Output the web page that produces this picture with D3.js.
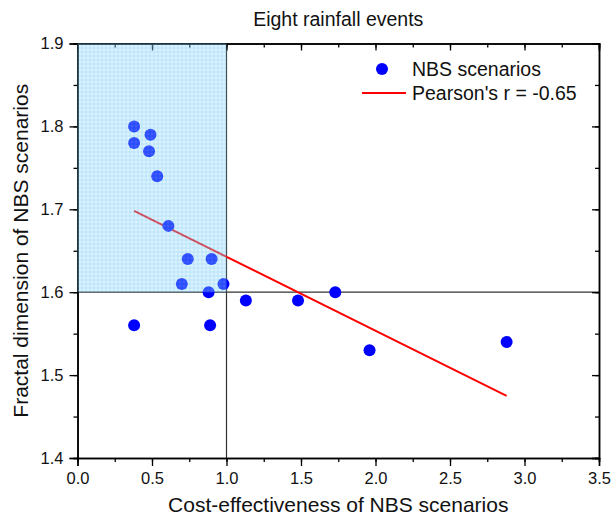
<!DOCTYPE html>
<html>
<head>
<meta charset="utf-8">
<script src="https://cdn.jsdelivr.net/npm/d3@7"></script>
<style>
body { margin:0; background:#fff; }
text { font-family: "Liberation Sans", Arial, Helvetica, sans-serif; fill:#111; }
</style>
</head>
<body>
<svg id="basicSVG" width="611" height="521"></svg>
<script>
// scatter points
var costEff    = [0.38, 0.38, 0.49, 0.48, 0.535, 0.61, 0.70, 0.74, 0.90, 0.98, 0.88, 0.38, 0.89, 1.13, 1.48, 1.73, 1.96, 2.88];
var fractalDim = [1.80, 1.78, 1.79, 1.77, 1.74, 1.68, 1.61, 1.64, 1.64, 1.61, 1.60, 1.56, 1.56, 1.59, 1.59, 1.60, 1.53, 1.54];
// fitted line ends
var fitX = [0.38, 2.88];
var fitY = [1.698, 1.475];
// thresholds / axis ticks
var xTicks = [0, 0.5, 1.0, 1.5, 2.0, 2.5, 3.0, 3.5];
var yTicks = [1.4, 1.5, 1.6, 1.7, 1.8, 1.9];
var xLimit = 1.0;
var yLimit = 1.6;

var pLeft = 77.5, pRight = 599, pTop = 43.5, pBottom = 458;
var svg = d3.select("#basicSVG");

var x = d3.scaleLinear().domain([0, 3.5]).range([pLeft, pRight]);
var y = d3.scaleLinear().domain([1.4, 1.9]).range([pBottom, pTop]);

var xMinor = d3.range(0, 3.5001, 0.25);
var yMinor = d3.range(1.4, 1.9001, 0.05);

// grid pattern for the shaded quadrant
var defs = svg.append("defs");
var pat = defs.append("pattern")
	.attr("id", "gridPat")
	.attr("patternUnits", "userSpaceOnUse")
	.attr("width", 4)
	.attr("height", 4)
	.attr("x", pLeft)
	.attr("y", pTop);
pat.append("rect").attr("width", 4).attr("height", 4).attr("fill", "rgb(171,223,250)");
pat.append("path").attr("d", "M0,0.5H4M0.5,0V4").attr("stroke", "rgb(70,185,245)").attr("stroke-width", 1);

// reference lines
svg.append("line")
	.attr("x1", x(xLimit)).attr("x2", x(xLimit))
	.attr("y1", pTop).attr("y2", pBottom)
	.attr("stroke", "#333").attr("stroke-width", 1.2);
svg.append("line")
	.attr("x1", pLeft).attr("x2", pRight)
	.attr("y1", y(yLimit)).attr("y2", y(yLimit))
	.attr("stroke", "#333").attr("stroke-width", 1.2);

// fit line
svg.append("line")
	.attr("x1", x(fitX[0])).attr("y1", y(fitY[0]))
	.attr("x2", x(fitX[1])).attr("y2", y(fitY[1]))
	.attr("stroke", "#ff0000").attr("stroke-width", 2);

// points
svg.append("g").selectAll("circle")
	.data(costEff)
	.enter().append("circle")
	.attr("cx", function(d) { return x(d); })
	.attr("cy", function(d, i) { return y(fractalDim[i]); })
	.attr("r", 6)
	.attr("fill", "#0000ff");

// axes
var xAxisB = d3.axisBottom(x).tickValues(xMinor).tickSize(4).tickFormat("");
svg.append("g").attr("transform", "translate(0," + pBottom + ")").call(xAxisB);
var xAxisMaj = d3.axisBottom(x).tickValues(xTicks).tickSize(8).tickPadding(6).tickFormat(d3.format(".1f"));
svg.append("g").attr("class", "xlab").attr("transform", "translate(0," + pBottom + ")").call(xAxisMaj);

var yAxisMin = d3.axisLeft(y).tickValues(yMinor).tickSize(4).tickFormat("");
svg.append("g").attr("transform", "translate(" + pLeft + ",0)").call(yAxisMin);
var yAxisMaj = d3.axisLeft(y).tickValues(yTicks).tickSize(8).tickPadding(6).tickFormat(d3.format(".1f"));
svg.append("g").attr("class", "ylab").attr("transform", "translate(" + pLeft + ",0)").call(yAxisMaj);

svg.append("g").attr("transform", "translate(0," + pTop + ")")
	.call(d3.axisTop(x).tickValues(xMinor).tickSize(-4).tickFormat(""));
svg.append("g").attr("transform", "translate(0," + pTop + ")")
	.call(d3.axisTop(x).tickValues(xTicks).tickSize(-7).tickFormat(""));
svg.append("g").attr("transform", "translate(" + pRight + ",0)")
	.call(d3.axisRight(y).tickValues(yMinor).tickSize(-4).tickFormat(""));
svg.append("g").attr("transform", "translate(" + pRight + ",0)")
	.call(d3.axisRight(y).tickValues(yTicks).tickSize(-7).tickFormat(""));

svg.selectAll(".domain").attr("stroke", "#000").attr("stroke-width", 1.5);
svg.selectAll(".tick line").attr("stroke", "#000").attr("stroke-width", 1.3);
svg.selectAll(".xlab text, .ylab text")
	.attr("font-size", 16.5)
	.attr("font-family", "Liberation Sans, Arial, sans-serif")
	.attr("fill", "#111");

// shaded quadrant over everything
svg.append("rect")
	.attr("x", x(0))
	.attr("y", y(1.9))
	.attr("width", x(xLimit) - x(0))
	.attr("height", y(yLimit) - y(1.9))
	.attr("fill", "url(#gridPat)")
	.attr("opacity", 0.4);

// titles
svg.append("text")
	.attr("x", (pLeft + pRight) / 2).attr("y", 26)
	.attr("text-anchor", "middle").attr("font-size", 19.5)
	.text("Eight rainfall events");
svg.append("text")
	.attr("x", (pLeft + pRight) / 2).attr("y", 512)
	.attr("text-anchor", "middle").attr("font-size", 21)
	.text("Cost-effectiveness of NBS scenarios");
svg.append("text")
	.attr("transform", "translate(28," + ((pTop + pBottom) / 2) + ") rotate(-90)")
	.attr("text-anchor", "middle").attr("font-size", 21)
	.text("Fractal dimension of NBS scenarios");

// legend
var leg = svg.append("g");
leg.append("circle").attr("cx", 382).attr("cy", 69).attr("r", 6).attr("fill", "#0000ff");
leg.append("text").attr("x", 412).attr("y", 76).attr("font-size", 19.5).text("NBS scenarios");
leg.append("line").attr("x1", 362).attr("x2", 406).attr("y1", 93).attr("y2", 93)
	.attr("stroke", "#ff0000").attr("stroke-width", 2);
leg.append("text").attr("x", 412).attr("y", 100).attr("font-size", 19.5).text("Pearson's r = -0.65");
</script>
</body>
</html>
